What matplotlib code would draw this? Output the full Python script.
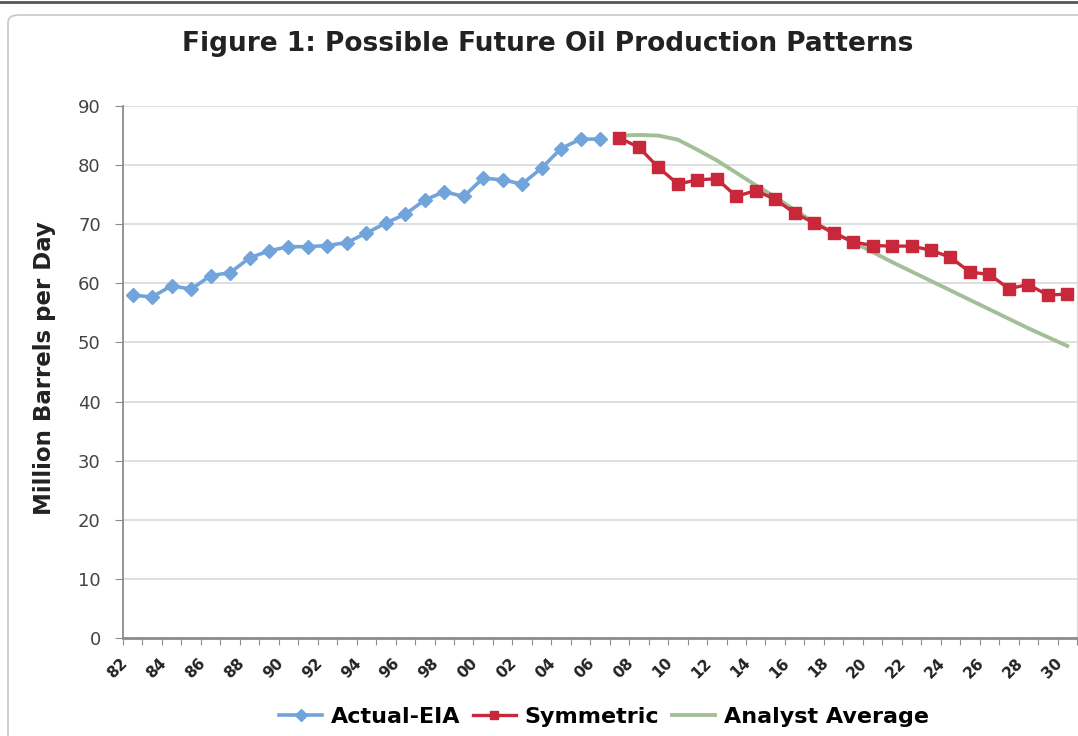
import matplotlib
matplotlib.use("Agg")
import matplotlib.pyplot as plt
import matplotlib.transforms as mtransforms
from matplotlib.patches import FancyBboxPatch
from matplotlib.lines import Line2D

# Years on the category axis (1982-2030)
years = list(range(1982, 2031))
tick_labels = ['82', '84', '86', '88', '90', '92', '94', '96', '98', '00', '02', '04',
               '06', '08', '10', '12', '14', '16', '18', '20', '22', '24', '26', '28', '30']

# Actual-EIA, 1982-2006
actual_years = list(range(1982, 2007))
actual = [58.0, 57.7, 59.6, 59.0, 61.3, 61.8, 64.3, 65.5, 66.2, 66.2, 66.4, 66.9, 68.5,
          70.2, 71.7, 74.1, 75.5, 74.7, 77.8, 77.5, 76.8, 79.5, 82.8, 84.4, 84.4]

# Symmetric and Analyst Average, 2007-2030
future_years = list(range(2007, 2031))
symmetric = [84.6, 83.0, 79.6, 76.8, 77.5, 77.7, 74.7, 75.7, 74.2, 71.9, 70.2, 68.5,
             67.0, 66.4, 66.3, 66.3, 65.6, 64.4, 61.9, 61.5, 59.1, 59.8, 58.0, 58.2]
analyst = [85.0, 85.1, 85.0, 84.3, 82.6, 80.8, 78.7, 76.6, 74.6, 72.4, 70.3, 68.6,
           67.0, 65.3, 63.6, 62.0, 60.4, 58.8, 57.2, 55.6, 54.0, 52.4, 50.9, 49.4]

blue = '#72A4DC'
red = '#C8283A'
green = '#A3BF98'
grid_c = '#D9D9D9'
axis_c = '#8C8C8C'

W, H = 1078, 736
fig = plt.figure(figsize=(W / 100, H / 100), dpi=100)

# outer chart frame and cropped line at the very top
fig.patches.append(FancyBboxPatch((8 / W, -0.1), 1.1, 1 - 15 / H + 0.1,
                                  boxstyle='round,pad=0,rounding_size=0.01',
                                  transform=fig.transFigure, fc='none',
                                  ec='#C8C8C8', lw=1.2, zorder=-1))
fig.add_artist(Line2D([0, 1], [1 - 2 / H, 1 - 2 / H], transform=fig.transFigure,
                      color='#555555', lw=2))

ax = fig.add_axes([123 / W, 1 - 638 / H, (1077 - 123) / W, (638 - 106) / H])
ax.set_facecolor('none')

idx = lambda ys: [years.index(y) for y in ys]

ax.plot(idx(actual_years), actual, color=blue, lw=2.6, marker='D', ms=7.5,
        mec=blue, mfc=blue, label='Actual-EIA', zorder=4)
ax.plot(idx(future_years), analyst, color=green, lw=2.8, label='Analyst Average', zorder=3)
ax.plot(idx(future_years), symmetric, color=red, lw=2.4, marker='s', ms=8,
        mec=red, mfc=red, label='Symmetric', zorder=5)

ax.set_xlim(-0.5, len(years) - 0.5)
ax.set_ylim(0, 90)
ax.set_yticks(range(0, 91, 10))
ax.yaxis.grid(True, color=grid_c, lw=1.2)
ax.set_axisbelow(True)

# category ticks between years, labels every second year drawn as rotated text
ax.set_xticks([i - 0.5 for i in range(len(years) + 1)])
ax.set_xticklabels([])
ax.tick_params(axis='x', length=5, color=axis_c, direction='out')
base = mtransforms.blended_transform_factory(ax.transData, ax.transAxes)
shift = mtransforms.ScaledTranslation(-13 / 100, -17 / 100, fig.dpi_scale_trans)
for i, lab in zip(range(0, len(years), 2), tick_labels):
    ax.text(i, 0, lab, transform=base + shift, rotation=45, ha='right', va='top',
            rotation_mode='anchor', fontsize=11, fontweight='bold', color='#222222',
            clip_on=False)

ax.tick_params(axis='y', length=6, color=axis_c, labelsize=13, labelcolor='#444444', pad=10)

ax.spines['top'].set_visible(False)
ax.spines['right'].set_color(grid_c)
ax.spines['left'].set_color(axis_c)
ax.spines['left'].set_linewidth(1.3)
ax.spines['bottom'].set_color(axis_c)
ax.spines['bottom'].set_linewidth(2)

fig.text(45 / W, 1 - 368 / H, 'Million Barrels per Day', rotation=90, ha='center',
         va='center', fontsize=16.5, fontweight='bold', color='#222222')
fig.text(548 / W, 1 - 44 / H, 'Figure 1: Possible Future Oil Production Patterns',
         ha='center', va='center', fontsize=19, fontweight='bold', color='#222222')

h, l = ax.get_legend_handles_labels()
order = [0, 2, 1]
fig.legend([h[i] for i in order], [l[i] for i in order], loc='center',
           bbox_to_anchor=(604 / W, 1 - 717 / H), ncol=3, frameon=False,
           prop={'weight': 'bold', 'size': 16}, handlelength=1.9,
           handletextpad=0.4, columnspacing=0.6, markerscale=0.8)

fig.savefig('out.png', dpi=100)
